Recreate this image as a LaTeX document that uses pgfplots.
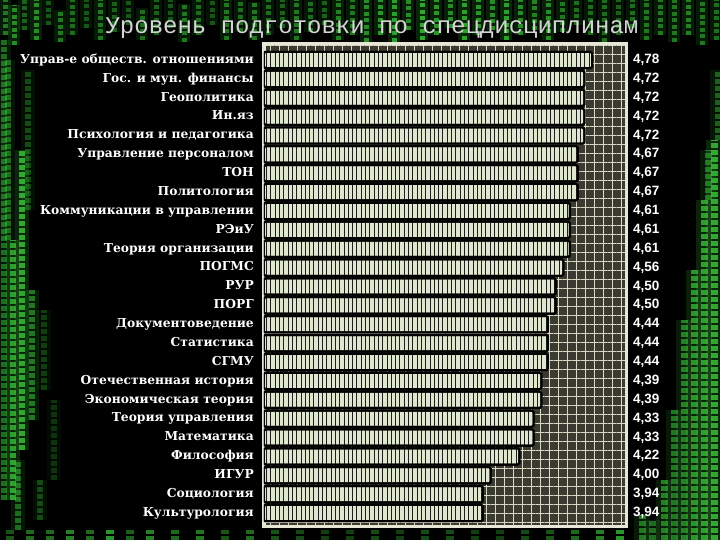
\documentclass[border=0pt]{standalone}
\usepackage{pgfplots}
\pgfplotsset{compat=1.18}
\usepackage{pgfplotstable}
\usepackage{fontspec}
\setmainfont{DejaVu Serif}
\newfontfamily\valfont{Liberation Sans}
\newfontfamily\titlefont{Liberation Mono}
\usetikzlibrary{patterns.meta}
\definecolor{barfill}{HTML}{DFE6D0}
\definecolor{stripe}{HTML}{1E1E1A}
\definecolor{bgdark}{HTML}{3A3A30}
\definecolor{gridc}{HTML}{D8D8C4}
\definecolor{framec}{HTML}{E6E6D6}
\definecolor{mgreen}{HTML}{3ED23E}
\definecolor{dgreen}{HTML}{156A15}

\pgfplotstableread[col sep=semicolon]{
name;v
Управ-е обществ. отношениями;4.78
Гос. и мун. финансы;4.72
Геополитика;4.72
Ин.яз;4.72
Психология и педагогика;4.72
Управление персоналом;4.67
ТОН;4.67
Политология;4.67
Коммуникации в управлении;4.61
РЭиУ;4.61
Теория организации;4.61
ПОГМС;4.56
РУР;4.50
ПОРГ;4.50
Документоведение;4.44
Статистика;4.44
СГМУ;4.44
Отечественная история;4.39
Экономическая теория;4.39
Теория управления;4.33
Математика;4.33
Философия;4.22
ИГУР;4.00
Социология;3.94
Культурология;3.94
}\data

\begin{document}
\begin{tikzpicture}
% background
\fill[black] (0,0) rectangle (720pt,540pt);
\begin{scope}
\clip (0,0) rectangle (720pt,540pt);
% top band
\foreach \x/\ya/\yb/\o in {
 5/505/540/0.5, 14/495/535/0.6, 24/510/540/0.4, 36/500/540/0.6, 48/515/540/0.35,
 60/498/530/0.5, 72/505/540/0.45, 86/512/540/0.35, 100/500/540/0.5, 114/508/540/0.4,
 128/515/540/0.35, 142/500/532/0.45, 156/505/540/0.4, 170/512/540/0.35, 184/498/536/0.5,
 198/505/540/0.45, 212/515/540/0.35, 226/500/540/0.5, 240/508/540/0.45, 254/500/538/0.5,
 268/505/540/0.45, 282/512/540/0.4, 296/500/540/0.5, 310/508/540/0.45, 324/515/540/0.4,
 338/500/540/0.55, 352/505/540/0.5, 366/498/540/0.6, 380/505/540/0.65, 394/498/540/0.7,
 408/510/540/0.6, 422/500/540/0.75, 436/505/540/0.65, 450/512/540/0.6, 464/500/540/0.7,
 478/505/540/0.65, 492/510/540/0.6, 506/500/540/0.7, 520/505/540/0.6, 534/510/540/0.55,
 548/500/540/0.6, 562/508/540/0.5, 576/515/540/0.45, 590/505/540/0.45, 604/498/540/0.45,
 618/505/540/0.4, 632/512/540/0.45, 646/500/540/0.5, 660/505/540/0.5, 674/498/540/0.5,
 688/505/540/0.55, 702/495/540/0.5, 716/500/540/0.45}
 {\draw[mgreen, opacity=0.25*\o, line width=12pt] (\x pt,\ya pt) -- (\x pt,\yb pt);
  \draw[mgreen, opacity=\o, line width=5pt, dash pattern=on 4pt off 2.5pt] (\x pt,\ya pt) -- (\x pt,\yb pt);}
% left band
\foreach \x/\ya/\yb/\o in {
 4/40/500/0.45, 13/40/300/0.7, 22/90/390/0.75, 32/120/250/0.5, 8/300/480/0.4,
 28/330/470/0.3, 44/150/230/0.25, 54/60/140/0.2, 18/10/80/0.45, 40/20/60/0.3}
 {\draw[mgreen, opacity=0.25*\o, line width=14pt] (\x pt,\ya pt) -- (\x pt,\yb pt);
  \draw[mgreen, opacity=\o, line width=6pt, dash pattern=on 5pt off 2pt] (\x pt,\ya pt) -- (\x pt,\yb pt);}
% bottom band
\foreach \x/\o in {10/0.4,30/0.5,50/0.5,70/0.6,90/0.5,110/0.7,130/0.45,150/0.6,175/0.5,200/0.55,225/0.4,250/0.5,
 275/0.4,300/0.35,325/0.3,350/0.3,375/0.35,400/0.3,425/0.35,450/0.35,475/0.3,500/0.3,525/0.35,550/0.4,575/0.5,600/0.6,620/0.7}
 {\draw[mgreen, opacity=\o, line width=8pt, dash pattern=on 4pt off 2pt] (\x pt,0) -- (\x pt,12pt);}
% right band
\foreach \x/\ya/\yb/\o in {
 714/0/400/0.75, 704/0/340/0.7, 694/0/270/0.65, 684/0/220/0.55, 674/0/130/0.5,
 718/400/470/0.4, 708/340/390/0.45, 664/0/60/0.55, 652/0/20/0.45, 642/0/25/0.5}
 {\draw[mgreen, opacity=0.25*\o, line width=16pt] (\x pt,\ya pt) -- (\x pt,\yb pt);
  \draw[mgreen, opacity=\o, line width=7pt, dash pattern=on 5pt off 2pt] (\x pt,\ya pt) -- (\x pt,\yb pt);}
\end{scope}

% title
\node[font=\titlefont\fontsize{24}{24}\selectfont, text=white!83!black] at (372pt,512pt) {Уровень подготовки по спецдисциплинам};

\begin{axis}[
  at={(263.75pt,13.75pt)}, anchor=south west,
  scale only axis, width=362.5pt, height=482.5pt,
  xmin=2.254, xmax=5.043,
  ymin=-0.861, ymax=24.70, y dir=reverse,
  xtick=\empty,
  ytick={0,...,24},
  yticklabels from table={\data}{name},
  major tick length=0pt,
  yticklabel style={font=\bfseries\fontsize{12.3}{13}\selectfont, text=white, anchor=east,
     inner sep=0pt, text height=9pt, text depth=2.5pt, xshift=-9.75pt},
  axis line style={draw=framec, line width=3.5pt},
  axis background/.style={fill=bgdark,
     postaction={pattern={Lines[angle=0,distance=9pt,line width=0.8pt]}, pattern color=gridc},
     postaction={pattern={Lines[angle=90,distance=9pt,line width=0.8pt]}, pattern color=gridc}},
  bar width=16.3pt,
]
\addplot[xbar, draw=black, line width=2pt, rounded corners=1.5pt,
  preaction={fill=barfill},
  pattern={Lines[angle=90,distance=4.3pt,line width=1pt]}, pattern color=stripe]
  table[x=v, y expr=\coordindex] {\data};
\end{axis}

% value labels
\begin{axis}[
  at={(263.75pt,13.75pt)}, anchor=south west,
  scale only axis, width=362.5pt, height=482.5pt,
  xmin=2.254, xmax=5.043,
  ymin=-0.861, ymax=24.70, y dir=reverse,
  xtick=\empty, ytick={0,...,24},
  yticklabel pos=right,
  major tick length=0pt,
  axis line style={draw=none},
  yticklabel style={font=\valfont\bfseries\fontsize{13.5}{14}\selectfont, text=white, anchor=west,
     inner sep=0pt, text height=9.5pt, text depth=2.5pt, xshift=6.75pt},
  yticklabel={\pgfplotstablegetelem{\ticknum}{v}\of\data\pgfmathprintnumber[fixed,fixed zerofill,precision=2,use comma,assume math mode=true]{\pgfplotsretval}},
]
\end{axis}
\end{tikzpicture}
\end{document}
